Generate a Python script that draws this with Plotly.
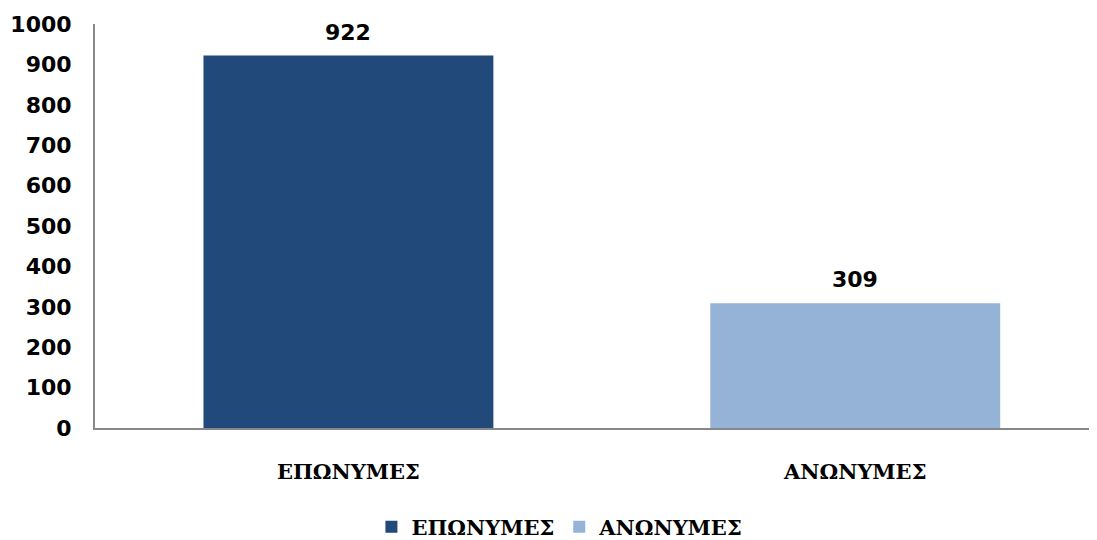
import plotly.graph_objects as go

categories = ["ΕΠΩΝΥΜΕΣ", "ΑΝΩΝΥΜΕΣ"]
values = [922, 309]
colors = ["#214A7B", "#95B3D7"]
y_ticks = [0, 100, 200, 300, 400, 500, 600, 700, 800, 900, 1000]

fig = go.Figure()
for cat, val, col in zip(categories, values, colors):
    fig.add_trace(go.Bar(
        x=[cat], y=[val], name=cat, marker=dict(color=col, line=dict(width=0)),
        width=0.572, hoverinfo="x+y",
    ))
    fig.add_annotation(x=cat, y=val, text=f"<b>{val}</b>", showarrow=False,
                       yanchor="bottom", yshift=9,
                       font=dict(family="DejaVu Sans", size=22, color="#000000"))

fig.update_layout(
    width=1089, height=532,
    margin=dict(l=87, r=0, t=16, b=112, autoexpand=False),
    plot_bgcolor="white", paper_bgcolor="white",
    barmode="overlay",
    showlegend=True,
    legend=dict(orientation="h", x=0.464, xanchor="center", y=-0.245, yanchor="middle",
                font=dict(family="DejaVu Serif", size=21, color="#000000", weight="bold"),
                traceorder="normal"),
    xaxis=dict(
        categoryorder="array", categoryarray=categories, automargin=False,
        range=[-0.5, 1.477], showline=True, linecolor="#888888", linewidth=2,
        showgrid=False, ticks="", ticklabelstandoff=24,
        tickfont=dict(family="DejaVu Serif", size=21, color="#000000", weight="bold"),
    ),
    yaxis=dict(
        range=[0, 1000], tickvals=y_ticks, showline=True, linecolor="#888888", linewidth=2,
        showgrid=False, zeroline=False, ticks="", ticklabelstandoff=17, automargin=False,
        tickfont=dict(family="DejaVu Sans", size=22, color="#000000", weight="bold"),
    ),
)

fig.write_html("out.html")
